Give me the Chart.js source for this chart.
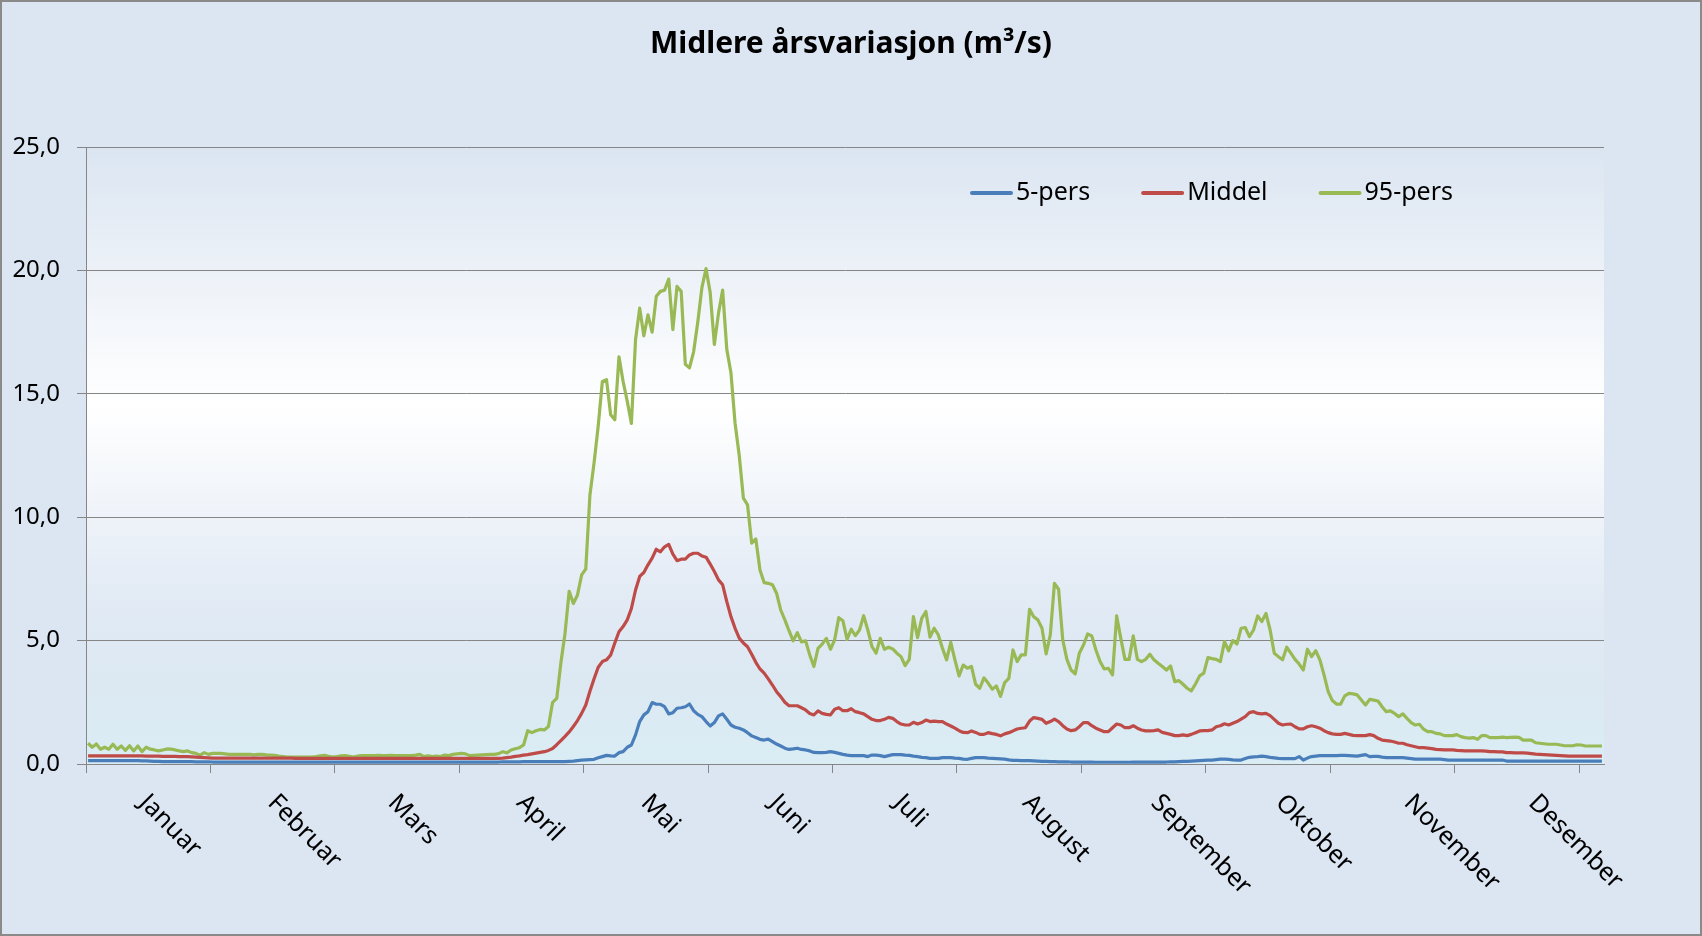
<!DOCTYPE html>
<html>
<head>
<meta charset="utf-8">
<title>Midlere årsvariasjon</title>
<script src="https://cdn.jsdelivr.net/npm/chart.js@4.4.0/dist/chart.umd.min.js"></script>
<style>
  html, body { margin: 0; padding: 0; background: #dce6f2; overflow: hidden; }
  #wrap { position: relative; width: 1702px; height: 936px; }
</style>
</head>
<body>
<div id="wrap"><canvas id="flowChart"></canvas></div>
<script>
const months = ['Januar', 'Februar', 'Mars', 'April', 'Mai', 'Juni', 'Juli', 'August', 'September', 'Oktober', 'November', 'Desember'];
const monthStarts = [0, 31, 60, 91, 121, 152, 182, 213, 244, 274, 305, 335];
const yTicks = [0, 5, 10, 15, 20, 25];
const seriesNames = ['5-pers', 'Middel', '95-pers'];

// daily values, 1 Jan .. 31 Dec (366 days)
const pers5 = [
  0.14, 0.14, 0.14, 0.14, 0.14, 0.14, 0.14, 0.14, 0.14, 0.14,
  0.14, 0.14, 0.14, 0.13, 0.13, 0.12, 0.11, 0.11, 0.10, 0.10,
  0.10, 0.10, 0.10, 0.10, 0.10, 0.10, 0.09, 0.09, 0.09, 0.09,
  0.08, 0.08, 0.08, 0.08, 0.08, 0.08, 0.08, 0.08, 0.08, 0.08,
  0.08, 0.08, 0.08, 0.08, 0.08, 0.08, 0.08, 0.08, 0.08, 0.08,
  0.08, 0.08, 0.08, 0.08, 0.08, 0.08, 0.08, 0.08, 0.08, 0.08,
  0.08, 0.08, 0.08, 0.08, 0.08, 0.08, 0.08, 0.08, 0.08, 0.08,
  0.08, 0.08, 0.08, 0.08, 0.08, 0.08, 0.08, 0.08, 0.08, 0.08,
  0.08, 0.08, 0.08, 0.08, 0.08, 0.08, 0.08, 0.08, 0.08, 0.08,
  0.08, 0.08, 0.08, 0.08, 0.08, 0.08, 0.08, 0.08, 0.08, 0.08,
  0.09, 0.09, 0.09, 0.09, 0.09, 0.10, 0.10, 0.10, 0.10, 0.10,
  0.10, 0.10, 0.10, 0.10, 0.10, 0.10, 0.11, 0.12, 0.14, 0.16,
  0.17, 0.18, 0.19, 0.25, 0.30, 0.35, 0.33, 0.32, 0.46, 0.50,
  0.68, 0.77, 1.18, 1.72, 1.99, 2.12, 2.49, 2.42, 2.42, 2.32,
  2.03, 2.08, 2.26, 2.28, 2.32, 2.43, 2.16, 2.01, 1.92, 1.72,
  1.54, 1.68, 1.95, 2.03, 1.81, 1.58, 1.49, 1.45, 1.38, 1.27,
  1.14, 1.07, 1.00, 0.97, 1.01, 0.91, 0.81, 0.73, 0.64, 0.59,
  0.61, 0.64, 0.59, 0.57, 0.53, 0.47, 0.46, 0.46, 0.47, 0.50,
  0.47, 0.43, 0.39, 0.36, 0.34, 0.34, 0.34, 0.34, 0.30, 0.36,
  0.36, 0.34, 0.30, 0.34, 0.38, 0.38, 0.38, 0.36, 0.35, 0.32,
  0.30, 0.27, 0.26, 0.23, 0.23, 0.23, 0.26, 0.26, 0.26, 0.24,
  0.23, 0.20, 0.19, 0.23, 0.26, 0.26, 0.26, 0.24, 0.23, 0.22,
  0.21, 0.20, 0.17, 0.15, 0.15, 0.14, 0.14, 0.14, 0.13, 0.12,
  0.11, 0.11, 0.10, 0.10, 0.09, 0.09, 0.09, 0.08, 0.08, 0.08,
  0.08, 0.08, 0.08, 0.07, 0.07, 0.07, 0.07, 0.07, 0.07, 0.07,
  0.07, 0.07, 0.08, 0.08, 0.08, 0.08, 0.08, 0.08, 0.08, 0.08,
  0.08, 0.09, 0.09, 0.10, 0.11, 0.11, 0.12, 0.13, 0.14, 0.15,
  0.16, 0.16, 0.18, 0.20, 0.20, 0.19, 0.17, 0.16, 0.16, 0.22,
  0.27, 0.29, 0.30, 0.32, 0.30, 0.27, 0.25, 0.23, 0.22, 0.22,
  0.22, 0.22, 0.30, 0.16, 0.24, 0.30, 0.32, 0.34, 0.34, 0.34,
  0.34, 0.34, 0.35, 0.35, 0.34, 0.33, 0.32, 0.35, 0.38, 0.30,
  0.31, 0.31, 0.28, 0.26, 0.26, 0.26, 0.26, 0.26, 0.24, 0.22,
  0.20, 0.20, 0.20, 0.20, 0.20, 0.20, 0.20, 0.18, 0.16, 0.16,
  0.16, 0.16, 0.16, 0.16, 0.16, 0.16, 0.16, 0.16, 0.16, 0.16,
  0.16, 0.16, 0.12, 0.12, 0.12, 0.12, 0.12, 0.12, 0.12, 0.12,
  0.12, 0.12, 0.12, 0.12, 0.12, 0.12, 0.12, 0.12, 0.12, 0.12,
  0.12, 0.12, 0.12, 0.12, 0.12, 0.12
];

const middel = [
  0.33, 0.33, 0.33, 0.33, 0.33, 0.33, 0.33, 0.33, 0.33, 0.33,
  0.33, 0.33, 0.33, 0.33, 0.32, 0.32, 0.32, 0.32, 0.31, 0.31,
  0.31, 0.31, 0.30, 0.30, 0.30, 0.29, 0.28, 0.27, 0.26, 0.25,
  0.24, 0.24, 0.24, 0.24, 0.24, 0.24, 0.24, 0.24, 0.24, 0.24,
  0.24, 0.24, 0.24, 0.24, 0.24, 0.24, 0.24, 0.24, 0.24, 0.24,
  0.23, 0.23, 0.23, 0.23, 0.23, 0.23, 0.23, 0.23, 0.23, 0.23,
  0.23, 0.23, 0.23, 0.23, 0.23, 0.23, 0.23, 0.23, 0.23, 0.23,
  0.23, 0.23, 0.23, 0.23, 0.23, 0.23, 0.23, 0.23, 0.23, 0.23,
  0.23, 0.23, 0.23, 0.23, 0.23, 0.23, 0.23, 0.23, 0.23, 0.23,
  0.23, 0.23, 0.23, 0.23, 0.23, 0.23, 0.23, 0.23, 0.23, 0.23,
  0.24, 0.26, 0.28, 0.31, 0.33, 0.36, 0.38, 0.41, 0.44, 0.47,
  0.50, 0.55, 0.63, 0.78, 0.95, 1.12, 1.30, 1.52, 1.76, 2.05,
  2.39, 2.95, 3.45, 3.92, 4.15, 4.22, 4.42, 4.90, 5.36, 5.57,
  5.84, 6.30, 7.05, 7.60, 7.76, 8.07, 8.34, 8.70, 8.60, 8.80,
  8.90, 8.50, 8.24, 8.30, 8.30, 8.47, 8.54, 8.54, 8.43, 8.38,
  8.10, 7.80, 7.46, 7.26, 6.58, 5.97, 5.50, 5.10, 4.90, 4.75,
  4.45, 4.12, 3.85, 3.68, 3.45, 3.20, 2.93, 2.73, 2.50, 2.36,
  2.36, 2.36, 2.28, 2.19, 2.05, 1.99, 2.15, 2.05, 2.01, 1.99,
  2.22, 2.28, 2.16, 2.16, 2.24, 2.12, 2.08, 2.03, 1.92, 1.81,
  1.76, 1.76, 1.81, 1.89, 1.85, 1.72, 1.62, 1.58, 1.58, 1.69,
  1.62, 1.68, 1.78, 1.72, 1.74, 1.72, 1.72, 1.62, 1.54, 1.45,
  1.35, 1.28, 1.27, 1.34, 1.28, 1.20, 1.20, 1.27, 1.23, 1.20,
  1.14, 1.22, 1.27, 1.34, 1.42, 1.45, 1.47, 1.74, 1.88, 1.85,
  1.81, 1.65, 1.72, 1.82, 1.72, 1.55, 1.42, 1.35, 1.38, 1.51,
  1.68, 1.68, 1.55, 1.45, 1.38, 1.31, 1.31, 1.47, 1.62, 1.58,
  1.47, 1.47, 1.55, 1.45, 1.38, 1.34, 1.34, 1.35, 1.38, 1.28,
  1.24, 1.20, 1.15, 1.15, 1.18, 1.15, 1.20, 1.27, 1.34, 1.35,
  1.35, 1.38, 1.51, 1.55, 1.63, 1.58, 1.65, 1.72, 1.82, 1.92,
  2.08, 2.12, 2.05, 2.03, 2.05, 1.96, 1.81, 1.65, 1.58, 1.61,
  1.62, 1.51, 1.42, 1.42, 1.51, 1.55, 1.51, 1.45, 1.35, 1.27,
  1.22, 1.20, 1.20, 1.24, 1.20, 1.16, 1.15, 1.15, 1.15, 1.19,
  1.15, 1.04, 0.97, 0.95, 0.93, 0.89, 0.84, 0.84, 0.78, 0.74,
  0.70, 0.66, 0.66, 0.64, 0.62, 0.59, 0.58, 0.57, 0.57, 0.57,
  0.55, 0.54, 0.53, 0.53, 0.53, 0.53, 0.53, 0.52, 0.50, 0.50,
  0.49, 0.49, 0.46, 0.46, 0.45, 0.45, 0.45, 0.44, 0.42, 0.40,
  0.39, 0.38, 0.37, 0.36, 0.35, 0.34, 0.33, 0.32, 0.32, 0.32,
  0.32, 0.32, 0.32, 0.32, 0.32, 0.32
];

const pers95 = [
  0.84, 0.68, 0.81, 0.60, 0.68, 0.60, 0.80, 0.60, 0.73, 0.55,
  0.74, 0.53, 0.73, 0.50, 0.68, 0.60, 0.57, 0.53, 0.57, 0.61,
  0.60, 0.57, 0.53, 0.50, 0.53, 0.46, 0.43, 0.36, 0.46, 0.39,
  0.43, 0.43, 0.43, 0.41, 0.39, 0.39, 0.39, 0.39, 0.39, 0.39,
  0.37, 0.39, 0.39, 0.37, 0.36, 0.35, 0.32, 0.30, 0.28, 0.28,
  0.28, 0.28, 0.28, 0.28, 0.28, 0.30, 0.33, 0.35, 0.31, 0.28,
  0.30, 0.33, 0.34, 0.31, 0.28, 0.32, 0.34, 0.34, 0.34, 0.34,
  0.35, 0.34, 0.34, 0.35, 0.34, 0.34, 0.34, 0.34, 0.34, 0.36,
  0.39, 0.30, 0.33, 0.30, 0.32, 0.30, 0.36, 0.34, 0.39, 0.41,
  0.43, 0.41, 0.34, 0.35, 0.36, 0.37, 0.38, 0.39, 0.39, 0.42,
  0.50, 0.45, 0.57, 0.62, 0.66, 0.77, 1.35, 1.27, 1.35, 1.40,
  1.38, 1.52, 2.50, 2.66, 4.10, 5.30, 7.00, 6.50, 6.85, 7.66,
  7.90, 10.90, 12.20, 13.70, 15.50, 15.57, 14.15, 13.95, 16.50, 15.50,
  14.70, 13.80, 17.20, 18.47, 17.35, 18.20, 17.50, 18.95, 19.15, 19.20,
  19.65, 17.60, 19.35, 19.15, 16.20, 16.05, 16.70, 17.90, 19.30, 20.07,
  19.10, 17.00, 18.27, 19.20, 16.80, 15.85, 13.80, 12.50, 10.77, 10.50,
  8.95, 9.12, 7.86, 7.35, 7.32, 7.26, 6.92, 6.24, 5.84, 5.40,
  4.99, 5.32, 4.95, 4.99, 4.42, 3.95, 4.69, 4.86, 5.09, 4.65,
  5.03, 5.93, 5.80, 5.05, 5.46, 5.20, 5.43, 6.01, 5.43, 4.76,
  4.49, 5.09, 4.65, 4.73, 4.66, 4.49, 4.35, 3.99, 4.24, 5.97,
  5.12, 5.90, 6.18, 5.14, 5.50, 5.23, 4.69, 4.22, 4.93, 4.22,
  3.57, 4.01, 3.88, 3.95, 3.23, 3.07, 3.49, 3.28, 3.03, 3.16,
  2.74, 3.30, 3.47, 4.62, 4.15, 4.42, 4.42, 6.27, 5.97, 5.84,
  5.50, 4.46, 5.23, 7.32, 7.08, 5.03, 4.24, 3.81, 3.65, 4.49,
  4.82, 5.27, 5.19, 4.62, 4.15, 3.85, 3.88, 3.61, 6.00, 5.09,
  4.24, 4.24, 5.19, 4.24, 4.15, 4.24, 4.45, 4.22, 4.08, 3.95,
  3.81, 3.97, 3.34, 3.38, 3.23, 3.07, 2.96, 3.24, 3.57, 3.68,
  4.31, 4.27, 4.24, 4.15, 4.96, 4.59, 5.00, 4.86, 5.50, 5.53,
  5.16, 5.43, 6.00, 5.77, 6.10, 5.43, 4.49, 4.35, 4.22, 4.73,
  4.49, 4.24, 4.05, 3.81, 4.65, 4.35, 4.59, 4.22, 3.61, 2.93,
  2.57, 2.43, 2.43, 2.76, 2.86, 2.84, 2.80, 2.59, 2.39, 2.62,
  2.59, 2.55, 2.32, 2.12, 2.15, 2.05, 1.92, 2.03, 1.85, 1.68,
  1.58, 1.61, 1.41, 1.31, 1.31, 1.24, 1.22, 1.15, 1.15, 1.15,
  1.19, 1.11, 1.07, 1.05, 1.07, 1.00, 1.15, 1.15, 1.07, 1.07,
  1.07, 1.09, 1.07, 1.08, 1.09, 1.08, 0.97, 0.97, 0.97, 0.86,
  0.84, 0.82, 0.80, 0.80, 0.80, 0.77, 0.74, 0.74, 0.74, 0.78,
  0.77, 0.73, 0.73, 0.73, 0.73, 0.73
];

const colors = ['#4a7ebb', '#be4b48', '#98b954'];
const gridColor = '#868686';
const FONT = '"Noto Sans", "DejaVu Sans", sans-serif';

// day positions: each value sits in the middle of its day slot
const dayPos = pers95.map((v, i) => i + 0.5);
const monthTicks = months.map((m, i) => i * 30).concat([360]);

// background of the whole chart and gradient in the plot area
const backgroundPlugin = {
  id: 'background',
  beforeDraw(chart) {
    const {ctx, chartArea} = chart;
    ctx.save();
    ctx.fillStyle = '#dce6f2';
    ctx.fillRect(0, 0, chart.width, chart.height);
    const g = ctx.createLinearGradient(0, chartArea.top, 0, chartArea.bottom);
    g.addColorStop(0, '#dbe5f1');
    g.addColorStop(0.42, '#ffffff');
    g.addColorStop(0.72, '#e3ebf5');
    g.addColorStop(0.86, '#dce8f2');
    g.addColorStop(1, '#daedf4');
    ctx.fillStyle = g;
    ctx.fillRect(chartArea.left, chartArea.top, chartArea.right - chartArea.left, chartArea.bottom - chartArea.top);
    ctx.restore();
  }
};

// title, month labels (rotated clockwise), legend and outer frame
const decorPlugin = {
  id: 'decor',
  afterDraw(chart) {
    const ctx = chart.ctx;
    const x = chart.scales.x;
    ctx.save();

    ctx.fillStyle = '#000';
    ctx.font = 'bold 30px ' + FONT;
    ctx.textAlign = 'center';
    ctx.textBaseline = 'alphabetic';
    ctx.fillText('Midlere årsvariasjon (m³/s)', chart.width / 2, 53);

    ctx.font = '25px ' + FONT;
    ctx.textAlign = 'left';
    ctx.textBaseline = 'middle';
    months.forEach((m, i) => {
      const px = x.getPixelForValue(monthStarts[i] + 13.3);
      ctx.save();
      ctx.translate(px + 2, x.top + 35);
      ctx.rotate(Math.PI / 4);
      ctx.fillText(m, 0, 0);
      ctx.restore();
    });

    // legend
    let lx = 970;
    const ly = 193;
    chart.data.datasets.forEach(ds => {
      ctx.strokeStyle = ds.borderColor;
      ctx.lineWidth = 4;
      ctx.lineCap = 'round';
      ctx.beginPath();
      ctx.moveTo(lx + 2, ly);
      ctx.lineTo(lx + 41, ly);
      ctx.stroke();
      ctx.fillText(ds.label, lx + 46, ly);
      lx += 46 + ctx.measureText(ds.label).width + 51;
    });

    ctx.strokeStyle = '#8a8a8a';
    ctx.lineWidth = 2;
    ctx.strokeRect(1, 1, chart.width - 2, chart.height - 2);
    ctx.restore();
  }
};

const ctx = document.getElementById('flowChart').getContext('2d');
new Chart(ctx, {
  type: 'line',
  data: {
    labels: dayPos,
    datasets: [pers5, middel, pers95].map((d, i) => ({
      label: seriesNames[i],
      data: d,
      borderColor: colors[i],
      backgroundColor: colors[i],
      borderWidth: 3.2,
      pointRadius: 0,
      tension: 0,
      borderJoinStyle: 'round',
      fill: false
    }))
  },
  options: {
    responsive: true,
    maintainAspectRatio: false,
    animation: false,
    layout: { padding: { top: 147, right: 98, bottom: 0, left: 0 } },
    plugins: {
      legend: { display: false },
      title: { display: false },
      tooltip: { enabled: false }
    },
    scales: {
      x: {
        type: 'linear',
        min: 0,
        max: 366,
        afterBuildTicks: scale => { scale.ticks = monthTicks.map(v => ({ value: v })); },
        afterFit: scale => { scale.height = 172; },
        ticks: { autoSkip: false, maxRotation: 0, callback: () => '' },
        grid: { drawOnChartArea: false, drawTicks: true, tickLength: 9, color: gridColor },
        border: { color: gridColor }
      },
      y: {
        min: 0,
        max: 25,
        afterBuildTicks: scale => { scale.ticks = yTicks.map(v => ({ value: v })); },
        afterFit: scale => { scale.width = 86; },
        ticks: {
          padding: 17,
          color: '#000',
          font: { family: FONT, size: 24 },
          callback: v => v.toFixed(1).replace('.', ',')
        },
        grid: { color: gridColor, tickLength: 9 },
        border: { color: gridColor }
      }
    }
  },
  plugins: [backgroundPlugin, decorPlugin]
});
</script>
</body>
</html>
